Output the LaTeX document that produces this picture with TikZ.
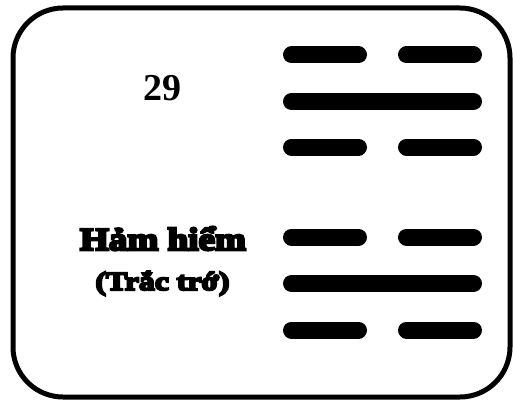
\documentclass[tikz,border=0pt]{standalone}
\usepackage{fontspec}
\setmainfont{Liberation Serif}
\newfontfamily\numfont{Liberation Serif}
\newfontfamily\heavyfont{Liberation Serif}[BoldFeatures={FakeBold=8,FakeStretch=1.16}]
\newfontfamily\subfont{Liberation Serif}[BoldFeatures={FakeBold=8,FakeStretch=1.22}]
\tikzset{
  frame/.style={line width=5pt, rounded corners=50pt},
  hexbar/.style={line width=17pt, line cap=round},
  numlabel/.style={inner sep=0pt, font=\numfont\bfseries\fontsize{38}{40}\selectfont},
  namelabel/.style={inner sep=0pt, anchor=base, font=\heavyfont\bfseries\fontsize{32}{34}\selectfont},
  sublabel/.style={inner sep=0pt, anchor=base, font=\subfont\bfseries\fontsize{26}{28}\selectfont},
}
\begin{document}
\begin{tikzpicture}[x=1pt,y=-1pt]
\useasboundingbox (0,0) rectangle (513,401);
\draw[frame] (13,8) rectangle (510,397);
% hexagram 29 (Kan): broken, solid, broken, broken, solid, broken
\foreach \y in {55,147,237,330}{
  \draw[hexbar] (291.5,\y) -- (358.5,\y);
  \draw[hexbar] (406.5,\y) -- (473.5,\y);
}
\foreach \y in {101.5,283.5}{
  \draw[hexbar] (291.5,\y) -- (473.5,\y);
}
\node[numlabel] (num) at (162.5,88.5) {29};
\node[namelabel] (name) at (163,250) {Hảm hiểm};
\node[sublabel] (sub) at (162.5,290) {(Trắc trớ)};
\end{tikzpicture}
\end{document}
